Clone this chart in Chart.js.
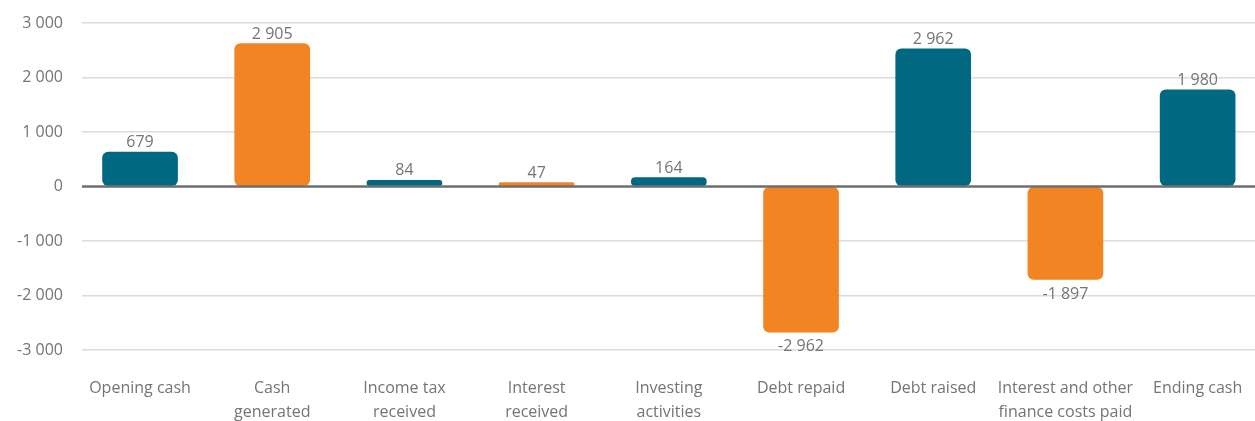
<!DOCTYPE html>
<html>
<head>
<meta charset="utf-8">
<script src="https://cdn.jsdelivr.net/npm/chart.js@4.4.1/dist/chart.umd.min.js"></script>
<style>
  html, body { margin: 0; padding: 0; background: #fff; overflow: hidden; }
  #wrap { width: 1255px; height: 421px; position: relative; }
</style>
</head>
<body>
<div id="wrap"><canvas id="cashChart"></canvas></div>
<script>
// Categories (multi-line labels as drawn under the axis)
const categories = [
    ['Opening cash'],
    ['Cash', 'generated'],
    ['Income tax', 'received'],
    ['Interest', 'received'],
    ['Investing', 'activities'],
    ['Debt repaid'],
    ['Debt raised'],
    ['Interest and other', 'finance costs paid'],
    ['Ending cash']
];

// Bar heights
const barValues = [631, 2624, 115, 70, 165, -2672, 2527, -1706, 1774];

// Value labels printed on the bars
const valueLabels = ['679', '2 905', '84', '47', '164', '-2 962', '2 962', '-1 897', '1 980'];

// Y axis ticks
const yTicks = [-3000, -2000, -1000, 0, 1000, 2000, 3000];

const TEAL = '#006880';
const ORANGE = '#f38423';
const barColors = [TEAL, ORANGE, TEAL, ORANGE, TEAL, ORANGE, TEAL, ORANGE, TEAL];

const TEXT = '#747474';
Chart.defaults.font.family = "'Open Sans', sans-serif";
Chart.defaults.font.size = 16;
Chart.defaults.color = TEXT;

const fmt = v => {
    const s = Math.abs(v).toString().replace(/\B(?=(\d{3})+(?!\d))/g, ' ');
    return (v < 0 ? '-' : '') + s;
};

// zero line drawn over the bars, value labels above/below each bar
const overlay = {
    id: 'overlay',
    afterDatasetsDraw(chart) {
        const { ctx, chartArea, scales } = chart;
        const y0 = scales.y.getPixelForValue(0);
        ctx.save();
        ctx.strokeStyle = '#6f6f6f';
        ctx.lineWidth = 2.5;
        ctx.beginPath();
        ctx.moveTo(chartArea.left, y0);
        ctx.lineTo(chartArea.right, y0);
        ctx.stroke();

        ctx.fillStyle = TEXT;
        ctx.font = "16px 'Open Sans', sans-serif";
        ctx.textAlign = 'center';
        ctx.textBaseline = 'middle';
        chart.getDatasetMeta(0).data.forEach((bar, i) => {
            const neg = barValues[i] < 0;
            ctx.fillText(valueLabels[i], bar.x, neg ? bar.y + 14.5 : bar.y - 9.5);
        });
        ctx.restore();
    }
};

new Chart(document.getElementById('cashChart').getContext('2d'), {
    type: 'bar',
    data: {
        datasets: [{
            data: barValues.map((v, i) => ({ x: i, y: v })),
            backgroundColor: barColors,
            borderRadius: 6,
            borderSkipped: false,
            barThickness: 75
        }]
    },
    options: {
        responsive: true,
        maintainAspectRatio: false,
        animation: false,
        layout: { padding: { top: 23, right: 0, left: 0, bottom: 0 } },
        plugins: { legend: { display: false }, tooltip: { enabled: false } },
        scales: {
            x: {
                type: 'linear',
                offset: false,
                min: -0.439,
                max: 8.434,
                grid: { display: false, drawTicks: false, offset: false },
                border: { display: false },
                afterFit: s => { s.height = 71; s.paddingLeft = 0; s.paddingRight = 0; },
                afterBuildTicks: s => { s.ticks = categories.map((c, i) => ({ value: i })); },
                ticks: {
                    autoSkip: false,
                    maxRotation: 0,
                    padding: 26,
                    font: { size: 16, lineHeight: 1.5 },
                    callback: v => categories[v]
                }
            },
            y: {
                min: -3000,
                max: 3000,
                afterFit: s => { s.width = 82; s.paddingTop = 0; s.paddingBottom = 0; },
                afterBuildTicks: s => { s.ticks = yTicks.map(v => ({ value: v })); },
                grid: { color: '#dcdcdc', lineWidth: 1.5, drawTicks: false },
                border: { display: false },
                ticks: {
                    padding: 19,
                    callback: v => fmt(v)
                }
            }
        }
    },
    plugins: [overlay]
});
</script>
</body>
</html>
